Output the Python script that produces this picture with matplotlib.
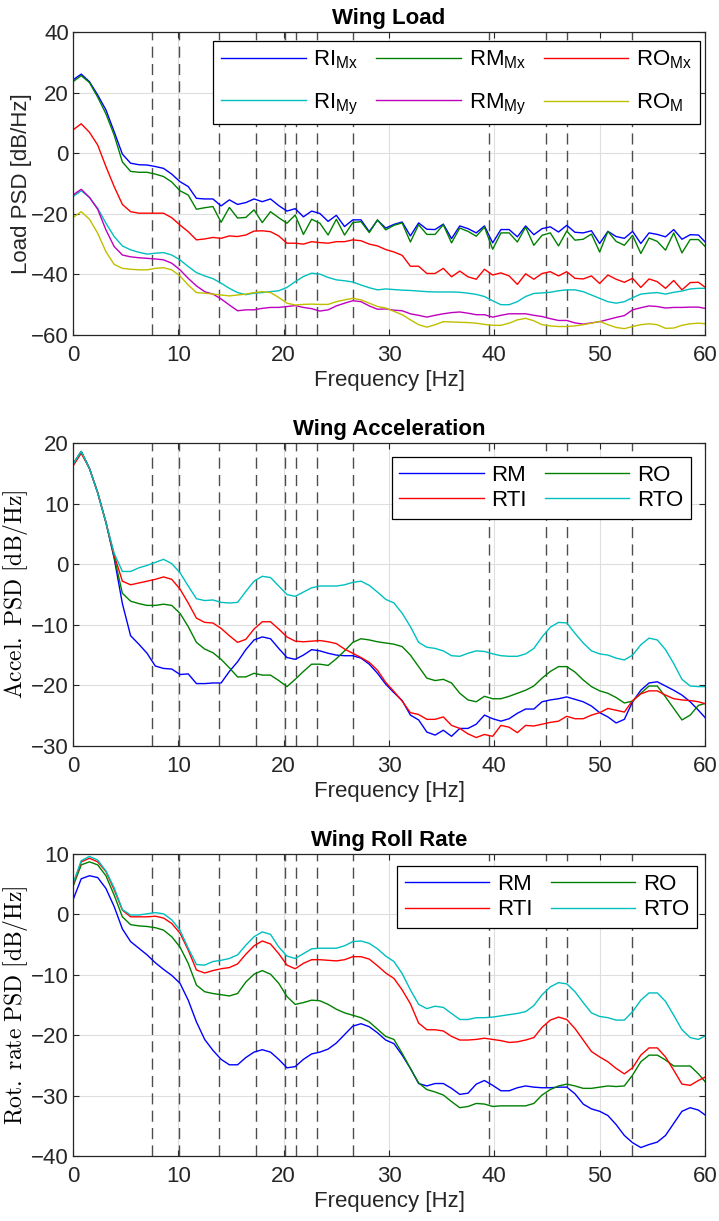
import numpy as np
import matplotlib
matplotlib.use('Agg')
import matplotlib.pyplot as plt

plt.rcParams['font.family'] = ['Liberation Sans', 'DejaVu Sans']
plt.rcParams['mathtext.fontset'] = 'custom'
plt.rcParams['mathtext.rm'] = 'Liberation Sans'
plt.rcParams['mathtext.it'] = 'Liberation Sans:italic'

# frequency bins (0.78125 Hz resolution)
freq = np.arange(78) * 0.78125

# modal frequencies marked with dashed lines
modes = [7.5, 10.1, 13.9, 17.4, 20.1, 21.2, 23.2, 26.6, 39.5, 44.9, 46.9, 53.1]

# ---- Wing Load PSD [dB/Hz] ----
ri_mx = [24.2, 26.1, 23.6, 19.2, 14.3, 7.1, -0.3, -3.3, -3.8, -3.9, -4.4, -5.0, -6.9, -9.4, -11.0,
         -14.9, -15.1, -15.1, -17.4, -15.4, -16.9, -16.3, -15.1, -16.0, -15.1, -17.3, -19.1, -18.3,
         -21.0, -19.1, -19.9, -22.5, -20.5, -24.2, -22.0, -22.0, -25.9, -22.1,
         -24.7, -23.5, -22.7, -27.3, -23.0, -25.1, -25.2, -23.4, -28.2, -24.0, -24.9, -26.3, -24.0,
         -29.6, -25.2, -25.2, -27.6, -24.0, -26.9, -24.9, -24.3, -26.0, -23.8, -26.1, -26.3, -25.6,
         -29.8, -25.8, -27.5, -28.1, -25.8, -29.8, -26.3, -26.8, -27.6, -25.2, -28.4, -26.9, -27.0, -29.8]
rm_mx = [23.6, 25.6, 23.3, 18.5, 13.0, 6.0, -2.9, -6.0, -6.3, -6.3, -6.9, -7.7, -9.5, -12.4, -13.8,
         -18.5, -18.0, -17.6, -22.8, -17.9, -21.4, -21.2, -18.7, -22.9, -19.3, -21.3, -23.1, -20.4,
         -26.8, -21.8, -23.1, -27.0, -21.8, -27.0, -22.9, -22.6, -26.2, -22.0,
         -25.3, -23.8, -23.0, -29.3, -23.6, -26.8, -26.8, -23.6, -29.6, -24.7, -25.8, -27.4, -24.4,
         -31.7, -26.3, -26.3, -29.3, -24.4, -30.4, -27.1, -26.3, -30.6, -25.7, -28.7, -28.4, -26.7,
         -32.6, -25.8, -29.1, -30.4, -27.1, -33.1, -28.0, -29.1, -32.0, -26.3, -32.9, -28.5, -28.5, -31.3]
ro_mx = [7.7, 9.7, 6.9, 2.7, -4.4, -11.0, -16.9, -19.3, -19.8, -19.8, -19.8, -19.8, -21.3, -23.7, -25.9,
         -28.6, -28.3, -27.8, -28.1, -27.3, -27.5, -27.0, -25.7, -25.6, -25.9, -27.3, -29.7, -29.7,
         -30.0, -29.2, -29.5, -29.7, -29.2, -29.2, -28.6, -28.9, -30.0, -30.6,
         -31.8, -32.6, -33.7, -37.3, -37.3, -39.7, -39.7, -38.0, -40.8, -38.9, -40.8, -41.6, -38.3,
         -40.2, -39.5, -40.5, -43.3, -39.8, -41.6, -39.7, -39.1, -40.5, -39.1, -41.3, -41.5, -40.5,
         -43.0, -40.2, -41.6, -42.6, -41.3, -44.3, -41.5, -42.4, -44.6, -42.0, -45.1, -42.7, -42.6, -44.6]
ri_my = [-14.3, -12.4, -14.6, -18.2, -23.1, -27.5, -30.6, -31.9, -32.7, -33.3, -33.0, -32.8, -33.6,
         -35.2, -37.4, -39.4, -40.5, -41.4, -42.9, -44.6, -46.0, -46.7, -46.2, -46.0, -45.7, -45.4,
         -44.3, -42.4, -40.7, -39.6, -39.9, -41.0, -41.8, -42.1, -42.5, -43.5, -44.4, -45.1,
         -44.8, -45.0, -45.2, -45.3, -45.5, -45.7, -45.8, -45.8, -45.8, -45.9, -46.2, -46.6, -47.3,
         -48.7, -50.0, -50.0, -49.0, -47.3, -46.3, -46.1, -45.9, -45.4, -45.1, -45.1, -45.7, -46.8,
         -47.9, -49.0, -49.5, -49.0, -47.7, -46.5, -46.2, -46.0, -46.5, -45.9, -45.5, -44.8, -44.6, -44.6]
rm_my = [-13.8, -11.9, -14.6, -18.5, -25.3, -30.8, -33.6, -34.2, -34.5, -34.7, -34.9, -35.2, -36.3,
         -38.5, -41.3, -43.8, -45.7, -46.5, -48.1, -50.1, -52.0, -51.7, -51.7, -51.2, -50.9, -50.9,
         -50.6, -50.3, -50.9, -51.3, -52.1, -51.7, -50.4, -49.5, -48.7, -49.0, -50.4, -51.5,
         -51.4, -51.8, -52.0, -53.0, -53.5, -54.1, -53.5, -53.0, -52.6, -52.4, -52.8, -53.3, -53.3,
         -54.1, -53.5, -53.0, -53.0, -53.0, -53.5, -53.9, -54.6, -55.2, -55.2, -56.0, -56.4, -56.0,
         -55.6, -54.9, -54.2, -53.6, -51.7, -51.0, -50.4, -50.6, -51.1, -50.9, -50.9, -50.8, -50.8, -51.3]
ro_m = [-21.2, -19.3, -21.8, -26.4, -32.5, -36.7, -38.0, -38.3, -38.5, -38.5, -38.0, -37.8, -38.5,
        -40.5, -43.5, -46.0, -46.2, -46.5, -46.8, -47.1, -46.8, -46.5, -46.0, -45.7, -46.0, -47.6,
        -49.5, -50.1, -49.9, -49.8, -49.9, -49.9, -49.0, -48.4, -47.9, -48.4, -49.5, -50.6,
        -51.1, -52.2, -53.3, -55.0, -56.6, -57.4, -56.6, -55.6, -55.7, -55.8, -55.9, -56.1, -56.5,
        -56.8, -56.8, -56.1, -55.0, -54.5, -55.3, -56.6, -57.0, -57.2, -57.2, -57.0, -56.6, -56.1,
        -55.5, -56.6, -57.5, -57.9, -57.2, -56.6, -56.3, -56.6, -57.8, -57.7, -56.8, -56.3, -56.1, -56.3]

# ---- Wing Acceleration PSD [dB/Hz] ----
acc_rm = [16.5, 18.6, 15.8, 11.8, 6.9, 1.0, -6.5, -11.8, -13.2, -14.7, -16.8, -17.2, -17.3, -18.2,
          -18.1, -19.7, -19.7, -19.6, -19.6, -17.7, -16.1, -14.1, -12.5, -12.0, -12.3, -13.9, -15.4,
          -15.7, -15.0, -14.1, -14.3, -14.7, -15.0, -15.1, -15.1, -15.5, -16.5, -18.0,
          -19.8, -21.2, -22.5, -24.9, -25.7, -27.7, -28.2, -27.4, -28.4, -27.1, -27.1, -26.4, -24.9,
          -25.5, -25.9, -25.5, -24.6, -23.9, -23.9, -22.7, -22.4, -22.2, -21.9, -22.3, -22.7, -23.4,
          -24.5, -25.2, -26.2, -25.6, -22.7, -20.8, -19.6, -19.4, -20.1, -20.8, -21.6, -22.7, -24.1, -25.6]
acc_ro = [16.5, 18.6, 15.8, 11.8, 6.9, 1.2, -4.8, -6.1, -6.5, -6.8, -6.8, -6.6, -6.8, -8.1, -10.3,
          -12.9, -14.0, -14.6, -15.7, -17.1, -18.6, -18.6, -18.0, -18.3, -18.3, -19.2, -20.2, -19.0,
          -17.7, -16.5, -16.5, -16.7, -15.6, -14.3, -12.9, -12.3, -12.5, -12.8,
          -13.0, -13.2, -13.6, -15.0, -16.9, -18.8, -19.2, -19.0, -19.6, -21.3, -22.4, -22.7, -21.8,
          -22.2, -22.2, -21.8, -21.3, -20.8, -20.1, -18.8, -17.7, -16.9, -16.9, -17.8, -19.1, -20.2,
          -20.9, -21.3, -22.0, -22.9, -22.6, -21.3, -20.1, -20.1, -21.9, -23.8, -25.7, -24.9, -23.3, -22.9]
acc_rti = [16.2, 18.3, 15.8, 11.8, 6.9, 1.5, -2.8, -3.4, -3.1, -2.8, -2.5, -2.1, -2.5, -4.1, -6.4,
           -8.9, -9.6, -9.7, -10.6, -11.8, -12.9, -12.4, -10.7, -9.5, -9.5, -10.7, -12.0, -12.7,
           -12.8, -12.7, -12.6, -12.8, -13.1, -14.0, -14.7, -15.4, -16.2, -17.5,
           -19.5, -21.0, -22.6, -24.5, -24.8, -25.6, -25.6, -25.2, -26.6, -27.1, -28.0, -28.6, -28.1,
           -28.4, -26.6, -26.9, -27.8, -26.6, -26.7, -26.4, -26.1, -25.9, -25.1, -25.5, -25.5, -24.9,
           -24.5, -23.8, -24.1, -24.4, -22.5, -21.4, -20.9, -20.9, -21.6, -22.2, -22.4, -22.5, -22.7, -23.1]
acc_rto = [16.5, 18.6, 15.8, 11.8, 6.9, 1.8, -1.2, -1.2, -0.6, -0.2, 0.3, 0.8, 0.1, -1.4, -3.6,
           -5.7, -6.0, -5.9, -6.3, -6.4, -6.3, -4.5, -2.8, -2.0, -2.2, -3.6, -5.0, -5.3, -4.6, -3.9,
           -3.6, -3.6, -3.6, -3.4, -3.0, -2.8, -3.5, -4.6,
           -5.8, -6.4, -8.1, -10.3, -12.9, -13.7, -13.9, -14.3, -15.1, -15.2, -14.7, -14.3, -14.4,
           -14.8, -15.1, -15.2, -15.2, -14.8, -13.9, -12.0, -10.4, -9.6, -9.7, -11.4, -13.0, -14.3,
           -14.8, -15.0, -15.5, -15.8, -15.0, -13.3, -12.2, -12.5, -14.1, -16.4, -19.0, -20.1, -20.2, -20.2]

# ---- Wing Roll Rate PSD [dB/Hz] ----
rol_rm = [2.4, 5.9, 6.4, 6.1, 4.3, 1.3, -2.4, -4.5, -5.6, -6.7, -8.0, -9.1, -10.1, -11.4, -14.2,
          -17.8, -20.7, -22.5, -24.0, -24.9, -24.9, -23.7, -22.8, -22.4, -22.8, -24.0, -25.4, -25.2,
          -24.0, -23.1, -22.8, -22.3, -21.3, -19.9, -18.5, -18.1, -18.6, -19.6,
          -20.8, -21.4, -23.3, -25.5, -28.0, -28.4, -28.0, -28.0, -28.8, -29.8, -29.6, -28.1, -27.5,
          -28.3, -29.2, -29.2, -28.7, -28.4, -28.6, -28.7, -28.7, -28.6, -28.6, -29.7, -31.4, -32.2,
          -32.6, -33.3, -34.8, -36.6, -37.8, -38.6, -38.1, -37.7, -36.6, -34.6, -32.6, -32.0, -32.4, -33.4]
rol_ro = [4.6, 8.2, 8.7, 8.2, 6.4, 3.2, -0.4, -1.7, -1.9, -2.0, -2.2, -2.6, -3.7, -5.4, -8.1, -11.7,
          -12.8, -13.1, -13.3, -13.5, -13.1, -11.2, -9.9, -9.3, -9.9, -11.4, -13.6, -14.9, -14.6,
          -14.2, -14.3, -14.9, -15.7, -16.3, -16.7, -17.1, -17.8, -19.0,
          -20.2, -20.7, -23.0, -25.5, -27.9, -29.0, -29.4, -29.9, -31.0, -32.0, -31.8, -31.3, -31.4,
          -31.8, -31.7, -31.7, -31.7, -31.7, -31.3, -29.9, -29.0, -28.4, -28.1, -28.4, -28.8, -28.8,
          -28.6, -28.4, -28.5, -28.4, -26.6, -24.4, -23.3, -23.3, -24.1, -25.1, -25.1, -25.1, -26.4, -28.0]
rol_rti = [4.9, 8.7, 9.3, 8.7, 7.1, 4.1, 0.7, -0.4, -0.4, -0.4, -0.3, -0.6, -1.5, -3.1, -5.9, -9.2,
           -9.7, -9.3, -9.0, -8.8, -8.2, -6.6, -5.2, -4.4, -4.9, -6.5, -8.4, -9.0, -8.1, -7.5, -7.5,
           -7.6, -7.7, -7.5, -7.0, -7.0, -7.4, -8.5,
           -9.7, -10.6, -12.5, -14.8, -18.0, -19.1, -19.1, -19.3, -20.2, -20.8, -20.8, -20.7, -20.5,
           -20.7, -20.9, -21.2, -21.1, -20.8, -20.4, -18.7, -17.5, -17.0, -17.4, -18.9, -20.8, -22.7,
           -23.6, -24.4, -25.5, -26.4, -25.4, -23.3, -22.1, -22.1, -23.6, -25.8, -28.1, -28.3, -27.5, -26.8]
rol_rto = [5.1, 8.9, 9.6, 9.0, 7.2, 4.4, 0.8, -0.1, -0.1, 0.1, 0.3, 0.1, -0.9, -2.6, -5.6, -8.3,
           -8.4, -7.8, -7.6, -7.3, -6.7, -5.1, -3.7, -2.9, -3.3, -5.4, -6.9, -7.3, -6.5, -5.7, -5.6,
           -5.6, -5.6, -5.2, -4.5, -4.4, -4.8, -5.7,
           -6.9, -7.8, -9.8, -12.5, -14.9, -15.6, -15.2, -15.4, -16.4, -17.4, -17.4, -17.1, -17.1,
           -17.0, -16.8, -16.6, -16.4, -16.1, -15.1, -13.3, -12.0, -11.3, -11.5, -12.8, -14.6, -16.3,
           -16.9, -17.1, -17.5, -17.5, -16.1, -14.2, -13.0, -13.0, -14.4, -16.7, -19.1, -20.4, -20.7, -20.0]

# colores estilo matlab
C_B = (0, 0, 1)
C_G = (0, 0.5, 0)
C_R = (1, 0, 0)
C_C = (0, 0.75, 0.75)
C_M = (0.75, 0, 0.75)
C_Y = (0.75, 0.75, 0)
DARK = (0.15, 0.15, 0.15)
FS = 16
SANS = ['Liberation Sans', 'DejaVu Sans']

fig = plt.figure(figsize=(7.19, 12.21), dpi=100)
left, width = 73 / 719, 632 / 719
ax1 = fig.add_axes([left, 1 - 335 / 1221, width, 303 / 1221])
ax2 = fig.add_axes([left, 1 - 746 / 1221, width, 303 / 1221])
ax3 = fig.add_axes([left, 1 - 1156 / 1221, width, 302 / 1221])


def style_axes(ax, ylim, yticks, title, ylabel, serif=False):
    ax.set_xlim(0, 60)
    ax.set_ylim(*ylim)
    ax.set_xticks(np.arange(0, 61, 10))
    ax.set_yticks(yticks)
    ax.grid(True, color=(0.87, 0.87, 0.87), linewidth=0.8, zorder=0)
    ax.set_axisbelow(True)
    ax.tick_params(direction='in', length=4, width=0.8, top=True, right=True,
                   labelsize=FS, colors=DARK)
    ax.tick_params(axis='y', pad=3)
    ax.tick_params(axis='x', pad=7)
    for sp in ax.spines.values():
        sp.set_color(DARK)
        sp.set_linewidth(0.9)
    ax.set_title(title, fontsize=FS, fontweight='bold', pad=6)
    ax.set_xlabel('Frequency [Hz]', fontsize=FS, color=DARK, labelpad=3)
    if serif:
        ax.set_ylabel(ylabel, fontsize=17, math_fontfamily='cm', labelpad=1)
    else:
        ax.set_ylabel(ylabel, fontsize=FS, color=DARK, family=SANS, labelpad=-1)
    for m in modes:
        ax.axvline(m, color=(0.3, 0.3, 0.3), linewidth=1.0, dashes=(8, 4.5), zorder=1)


def add_lines(ax, series):
    handles = []
    for y, c, lab in series:
        h, = ax.plot(freq[:len(y)], y, color=c, linewidth=1.0, label=lab, zorder=2)
        handles.append(h)
    return handles


def add_legend(ax, handles, order, ncol, anchor, spacing):
    leg = ax.legend([handles[i] for i in order], [handles[i].get_label() for i in order],
                    ncol=ncol, loc='upper right', bbox_to_anchor=anchor, borderaxespad=0,
                    fontsize=FS, handlelength=3.8, columnspacing=0.8, handletextpad=0.35,
                    labelspacing=spacing, borderpad=0.35, fancybox=False, framealpha=1,
                    edgecolor='black')
    leg.get_frame().set_linewidth(0.9)
    leg.set_zorder(5)
    return leg


# Wing Load
h = add_lines(ax1, [(ri_mx, C_B, r'RI$_{\mathrm{Mx}}$'), (rm_mx, C_G, r'RM$_{\mathrm{Mx}}$'),
                    (ro_mx, C_R, r'RO$_{\mathrm{Mx}}$'), (ri_my, C_C, r'RI$_{\mathrm{My}}$'),
                    (rm_my, C_M, r'RM$_{\mathrm{My}}$'), (ro_m, C_Y, r'RO$_{\mathrm{M}}$')])
style_axes(ax1, (-60, 40), np.arange(-60, 41, 20), 'Wing Load', 'Load PSD [dB/Hz]')
add_legend(ax1, h, [0, 3, 1, 4, 2, 5], 3, (0.992, 0.970), 0.9)

# Wing Acceleration
h = add_lines(ax2, [(acc_rm, C_B, 'RM'), (acc_ro, C_G, 'RO'),
                    (acc_rti, C_R, 'RTI'), (acc_rto, C_C, 'RTO')])
style_axes(ax2, (-30, 20), np.arange(-30, 21, 10), 'Wing Acceleration',
           r'$\mathrm{Accel.\ PSD\ [dB/Hz]}$', serif=True)
add_legend(ax2, h, [0, 2, 1, 3], 2, (0.978, 0.954), 0.2)

# Wing Roll Rate
h = add_lines(ax3, [(rol_rm, C_B, 'RM'), (rol_ro, C_G, 'RO'),
                    (rol_rti, C_R, 'RTI'), (rol_rto, C_C, 'RTO')])
style_axes(ax3, (-40, 10), np.arange(-40, 11, 10), 'Wing Roll Rate',
           r'$\mathrm{Rot.\ rate\ PSD\ [dB/Hz]}$', serif=True)
add_legend(ax3, h, [0, 2, 1, 3], 2, (0.987, 0.960), 0.2)

fig.savefig('out.png', dpi=100)
